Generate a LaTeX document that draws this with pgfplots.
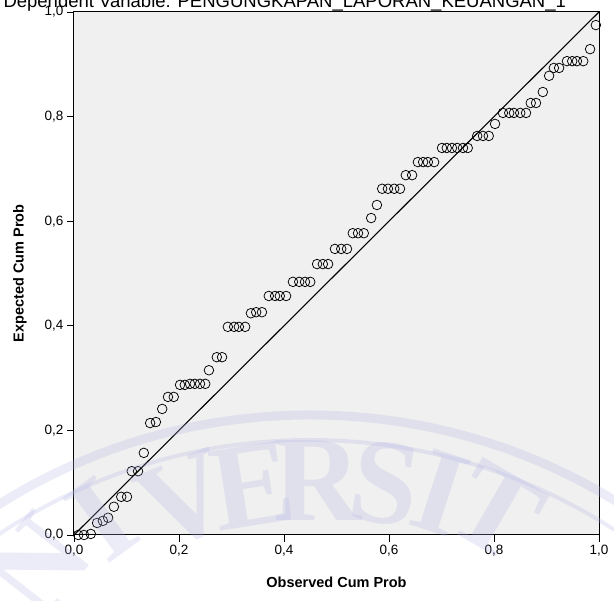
\documentclass[border=0pt]{standalone}
\usepackage{fontspec}
\setmainfont{Liberation Sans}
\newfontfamily\wmfont{Liberation Serif}
\usepackage{pgfplots}
\pgfplotsset{compat=1.18}
\usepackage{pgfplotstable}
\definecolor{plotbg}{HTML}{F0F0F0}
\definecolor{wmark}{HTML}{B4B4E6}

% observed cum prob / expected cum prob
\pgfplotstableread{
x     y
0.008 0.000
0.019 0.000
0.032 0.002
0.044 0.023
0.055 0.027
0.065 0.033
0.076 0.054
0.090 0.073
0.101 0.073
0.110 0.122
0.122 0.122
0.133 0.157
0.145 0.214
0.156 0.216
0.168 0.241
0.179 0.264
0.190 0.264
0.202 0.287
0.211 0.287
0.221 0.289
0.230 0.289
0.240 0.289
0.250 0.289
0.257 0.315
0.272 0.340
0.282 0.340
0.293 0.398
0.305 0.398
0.314 0.398
0.326 0.398
0.337 0.424
0.347 0.426
0.358 0.426
0.371 0.457
0.383 0.457
0.392 0.457
0.404 0.457
0.417 0.484
0.429 0.484
0.440 0.484
0.450 0.484
0.463 0.518
0.474 0.518
0.484 0.518
0.497 0.547
0.509 0.547
0.520 0.547
0.531 0.577
0.541 0.577
0.552 0.577
0.566 0.606
0.577 0.631
0.587 0.662
0.598 0.662
0.610 0.662
0.621 0.662
0.632 0.688
0.644 0.688
0.655 0.713
0.665 0.713
0.674 0.713
0.686 0.713
0.701 0.740
0.710 0.740
0.720 0.740
0.730 0.740
0.741 0.740
0.750 0.740
0.768 0.763
0.779 0.763
0.790 0.763
0.802 0.786
0.817 0.807
0.829 0.807
0.838 0.807
0.850 0.807
0.861 0.807
0.870 0.826
0.880 0.826
0.893 0.847
0.905 0.878
0.914 0.893
0.924 0.893
0.939 0.906
0.949 0.906
0.958 0.906
0.970 0.906
0.983 0.929
0.994 0.975
}\ppdata

\begin{document}
\begin{tikzpicture}
\begin{axis}[
  at={(74pt,66pt)}, anchor=south west,
  width=525pt, height=523pt, scale only axis,
  xmin=0, xmax=1, ymin=0, ymax=1,
  axis background/.style={fill=plotbg},
  axis line style={black, line width=1pt},
  xtick={0,0.2,0.4,0.6,0.8,1},
  ytick={0,0.2,0.4,0.6,0.8,1},
  xtick pos=left, ytick pos=left,
  tick align=outside,
  major tick length=7pt,
  tick style={black, line width=0.8pt},
  ticklabel style={font=\fontsize{13.5}{15}\selectfont},
  /pgf/number format/.cd, use comma, fixed, fixed zerofill, precision=1, assume math mode=true,
  /pgfplots/.cd,
  xlabel={Observed Cum Prob},
  ylabel={Expected Cum Prob},
  label style={font=\bfseries\fontsize{14.5}{17}\selectfont},
  xlabel style={at={(axis description cs:0.5,-0.09)}, anchor=center},
  ylabel style={at={(axis description cs:-0.103,0.5)}, anchor=center},
  clip=false,
]
\addplot[black, line width=1.1pt] coordinates {(0,0) (1,1)};
\addplot[only marks, mark=o, mark size=4.8pt, mark options={black, line width=0.75pt}] table {\ppdata};
\end{axis}
% faint university seal watermark
\begin{scope}[opacity=0.25]
  \draw[wmark, line width=9pt] (310pt,-399pt) circle (585pt);
  \draw[wmark, line width=4pt] (310pt,-399pt) circle (560pt);
  \draw[wmark, line width=3pt] (310pt,-399pt) circle (395pt);
  \foreach \ch/\px/\py/\rot in {N/38/35/52, I/102/82/36, V/185/100/22, E/252/115/9,
      R/318/120/0, S/385/117/-9, I/440/108/-18, T/497/90/-30}
    \node[text=wmark, font=\wmfont\bfseries\fontsize{122}{122}\selectfont, rotate=\rot]
      at (\px pt,\py pt) {\ch};
\end{scope}
\node[anchor=base west, font=\fontsize{18.5}{21}\selectfont] at (0pt,593.5pt)
  {Dependent Variable: PENGUNGKAPAN\_LAPORAN\_KEUANGAN\_1};
\pgfresetboundingbox
\useasboundingbox (0pt,0pt) rectangle (614pt,601pt);
\end{tikzpicture}
\end{document}
